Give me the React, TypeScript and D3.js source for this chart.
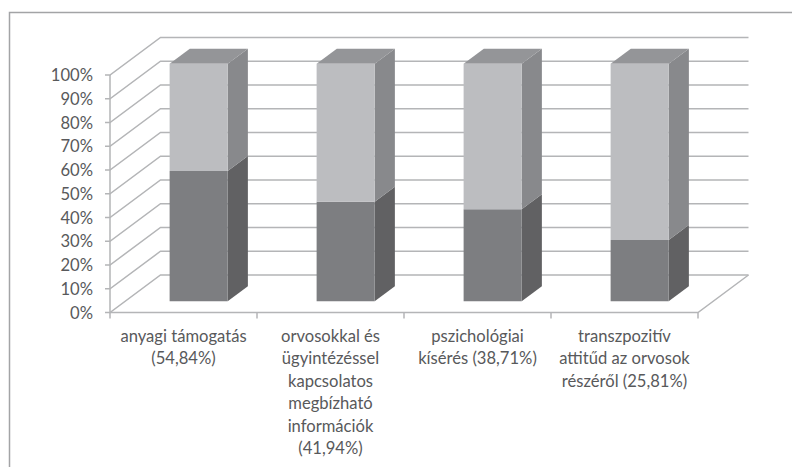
import React from "react";
import * as d3 from "d3";

// Category labels, one entry per wrapped line
const categoryLabels: string[][] = [
  ["anyagi támogatás", "(54,84%)"],
  ["orvosokkal és", "ügyintézéssel", "kapcsolatos", "megbízható", "információk", "(41,94%)"],
  ["pszichológiai", "kísérés (38,71%)"],
  ["transzpozitív", "attitűd az orvosok", "részéről (25,81%)"],
];
const categoryKeys = ["a", "b", "c", "d"];
const lowerValues = [54.84, 41.94, 38.71, 25.81];
const upperValues = [45.16, 58.06, 61.29, 74.19];
const yTicks = [0, 10, 20, 30, 40, 50, 60, 70, 80, 90, 100];

const WIDTH = 792;
const HEIGHT = 467;
const GRID = "#b4b5b7";
const TEXT = "#58595b";

// Oblique projection of the 3D box: depth 0 is the front, depth 1 the back wall
const DEPTH_X = 50.5;
const DEPTH_Y = -37.5;
const BAR_NEAR = 0.3;
const BAR_FAR = 0.7;

const x = d3.scaleBand<string>().domain(categoryKeys).range([110, 698]);
const y = d3.scaleLinear().domain([0, 100]).range([312.5, 75]);
const barWidth = x.bandwidth() * 0.395;

const project = (px: number, value: number, depth: number): [number, number] => [
  px + DEPTH_X * depth,
  y(value) + DEPTH_Y * depth,
];
const poly = (pts: [number, number][]) => d3.line()(pts)! + "Z";

function Segment({ x0, from, to, front, side, top }: {
  x0: number; from: number; to: number; front: string; side: string; top?: string;
}) {
  const x1 = x0 + barWidth;
  return (
    <g>
      <path
        fill={side}
        d={poly([
          project(x1, from, BAR_NEAR),
          project(x1, from, BAR_FAR),
          project(x1, to, BAR_FAR),
          project(x1, to, BAR_NEAR),
        ])}
      />
      {top && (
        <path
          fill={top}
          d={poly([
            project(x0, to, BAR_NEAR),
            project(x0, to, BAR_FAR),
            project(x1, to, BAR_FAR),
            project(x1, to, BAR_NEAR),
          ])}
        />
      )}
      <path
        fill={front}
        d={poly([
          project(x0, from, BAR_NEAR),
          project(x1, from, BAR_NEAR),
          project(x1, to, BAR_NEAR),
          project(x0, to, BAR_NEAR),
        ])}
      />
    </g>
  );
}

export default function App() {
  const [left, right] = x.range();
  const boundaries = [...categoryKeys.map((k) => x(k)!), right];
  return (
    <svg
      width={WIDTH}
      height={HEIGHT}
      viewBox={`0 0 ${WIDTH} ${HEIGHT}`}
      style={{ position: "absolute", left: 0, top: 0, background: "#fff" }}
      fontFamily="Lato, 'Open Sans', sans-serif"
    >
      {/* Chart frame, open on the right and at the bottom */}
      <path d="M9.5 467V12.5H792" fill="none" stroke="#a3a4a6" strokeWidth={1.5} />

      {/* Gridlines across the back wall and side wall */}
      {yTicks.map((t) => {
        const [bx, by] = project(left, t, 1);
        const [ex] = project(right, t, 1);
        return (
          <g key={t} stroke={GRID} strokeWidth={1.5} fill="none">
            <path d={`M${left - 5} ${y(t)}H${left}L${bx} ${by}H${ex}`} />
          </g>
        );
      })}

      {/* Front axes and floor edge */}
      <path
        d={`M${left} ${y(100)}V${y(0)}H${right}L${project(right, 0, 1).join(" ")}`}
        fill="none"
        stroke={GRID}
        strokeWidth={1.5}
      />
      {boundaries.map((b) => (
        <path key={b} d={`M${b} ${y(0)}v6`} stroke={GRID} strokeWidth={1.5} />
      ))}

      {/* Stacked columns */}
      {categoryKeys.map((k, i) => {
        const x0 = x(k)! + (x.bandwidth() - barWidth) / 2;
        const lower = lowerValues[i];
        const upper = lower + upperValues[i];
        return (
          <g key={k}>
            <Segment x0={x0} from={0} to={lower} front="#7d7e81" side="#616163" />
            <Segment x0={x0} from={lower} to={upper} front="#bcbdc0" side="#88898c" top="#949598" />
          </g>
        );
      })}

      {/* Value axis labels */}
      {yTicks.map((t) => (
        <text key={t} x={93} y={y(t) + 6} textAnchor="end" fontSize={16.6} fill={TEXT}>
          {t}%
        </text>
      ))}

      {/* Category labels */}
      {categoryKeys.map((k, i) => (
        <text
          key={k}
          x={x(k)! + x.bandwidth() / 2}
          textAnchor="middle"
          fontSize={16.6}
          fill={TEXT}
        >
          {categoryLabels[i].map((line, j) => (
            <tspan key={j} x={x(k)! + x.bandwidth() / 2} y={342 + j * 22.4}>
              {line}
            </tspan>
          ))}
        </text>
      ))}
    </svg>
  );
}
